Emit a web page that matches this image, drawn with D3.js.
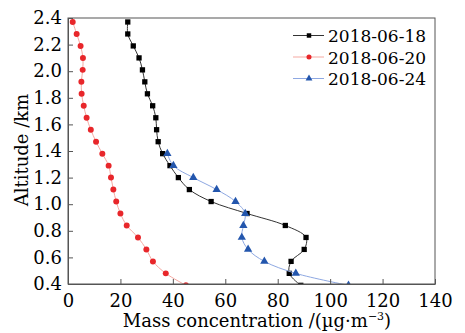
<style>body{margin:0}</style>
<svg width="465" height="333"></svg>
<script src="https://d3js.org/d3.v7.min.js"></script>
<script>
// altitude levels (km), top to bottom
const altitudes = [2.37, 2.28, 2.19, 2.10, 2.01, 1.92, 1.83, 1.74, 1.65, 1.56, 1.47, 1.38,
  1.29, 1.20, 1.11, 1.02, 0.93, 0.84, 0.75, 0.66, 0.57, 0.48, 0.39];
const blueAltitudes = [1.38, 1.29, 1.20, 1.11, 1.02, 0.93, 0.84, 0.75, 0.66, 0.57, 0.48, 0.39];

const conc0618 = [22.8, 22.8, 24.9, 27.1, 28.4, 29.3, 30.3, 32.3, 33.5, 33.8, 34.4, 36.1,
  38.9, 42.1, 46.3, 54.6, 68.3, 82.9, 90.8, 90.1, 85.1, 84.4, 88.8];
const conc0620 = [1.8, 3.3, 4.8, 5.7, 5.6, 5.1, 5.2, 6.0, 7.1, 8.7, 10.7, 13.1,
  15.5, 16.4, 17.3, 18.4, 20.0, 22.4, 26.7, 29.9, 32.4, 37.3, 45.0];
const conc0624 = [37.9, 40.2, 47.8, 56.7, 63.9, 67.6, 66.9, 66.3, 68.7, 74.9, 86.9, 107.0];

const xTicks = [0, 20, 40, 60, 80, 100, 120, 140];
const yTicks = [0.4, 0.6, 0.8, 1.0, 1.2, 1.4, 1.6, 1.8, 2.0, 2.2, 2.4];

const series = [
  { name: "2018-06-18", alt: altitudes, val: conc0618, line: "#333", mark: "#000", shape: d3.symbolSquare },
  { name: "2018-06-20", alt: altitudes, val: conc0620, line: "#f5a9a2", mark: "#e8262a", shape: d3.symbolCircle },
  { name: "2018-06-24", alt: blueAltitudes, val: conc0624, line: "#8ea8e2", mark: "#2356ad", shape: d3.symbolTriangle }
];

const font = "DejaVu Serif";
const svg = d3.select("svg").style("background", "#fff");
const L = 68, R = 435, T = 18, B = 284;

const x = d3.scaleLinear().domain([0, 140]).range([L, R]);
const y = d3.scaleLinear().domain([0.4, 2.4]).range([B, T]);

svg.append("clipPath").attr("id", "plot")
  .append("rect").attr("x", L).attr("y", T).attr("width", R - L).attr("height", B - T);

const g = svg.append("g").attr("clip-path", "url(#plot)");

series.forEach(s => {
  const pts = s.val.map((v, i) => [v, s.alt[i]]);
  g.append("path").datum(pts)
    .attr("fill", "none").attr("stroke", s.line).attr("stroke-width", 1)
    .attr("d", d3.line().x(d => x(d[0])).y(d => y(d[1])).curve(d3.curveCatmullRom));
  g.selectAll(null).data(pts).enter().append("path")
    .attr("transform", d => `translate(${x(d[0])},${y(d[1])})`)
    .attr("d", d3.symbol().type(s.shape).size(s.shape === d3.symbolTriangle ? 30 : 28))
    .attr("fill", s.mark);
});

// frame
svg.append("rect").attr("x", L).attr("y", T).attr("width", R - L).attr("height", B - T)
  .attr("fill", "none").attr("stroke", "#555").attr("stroke-width", 1);

const xAxis = svg.append("g").attr("transform", `translate(0,${B})`)
  .call(d3.axisBottom(x).tickValues(xTicks).tickFormat(d3.format("d")).tickSizeInner(-5).tickSizeOuter(0).tickPadding(10));
const yAxis = svg.append("g").attr("transform", `translate(${L},0)`)
  .call(d3.axisLeft(y).tickValues(yTicks).tickFormat(d3.format(".1f")).tickSizeInner(-5).tickSizeOuter(0).tickPadding(6));

[xAxis, yAxis].forEach(a => {
  a.select(".domain").attr("stroke", "#555");
  a.selectAll(".tick line").attr("stroke", "#555");
  a.selectAll("text").attr("fill", "#000").style("font-family", font).style("font-size", "18px");
});

svg.append("text").attr("x", 257).attr("y", 327).attr("text-anchor", "middle")
  .style("font-family", font).style("font-size", "18px")
  .html('Mass concentration /(µg·m<tspan dy="-7" font-size="11px">−3</tspan><tspan dy="7">)</tspan>');

svg.append("text").attr("transform", "translate(28,150) rotate(-90)").attr("text-anchor", "middle")
  .style("font-family", font).style("font-size", "18px").text("Altitude /km");

// legend
const leg = svg.append("g");
series.forEach((s, i) => {
  const cy = 35.5 + i * 21.5;
  leg.append("line").attr("x1", 293).attr("x2", 324).attr("y1", cy).attr("y2", cy)
    .attr("stroke", s.line).attr("stroke-width", 1);
  leg.append("path").attr("transform", `translate(309,${cy})`)
    .attr("d", d3.symbol().type(s.shape).size(20)).attr("fill", s.mark);
  leg.append("text").attr("x", 328).attr("y", cy + 6.5)
    .style("font-family", font).style("font-size", "17px").text(s.name);
});
</script>
